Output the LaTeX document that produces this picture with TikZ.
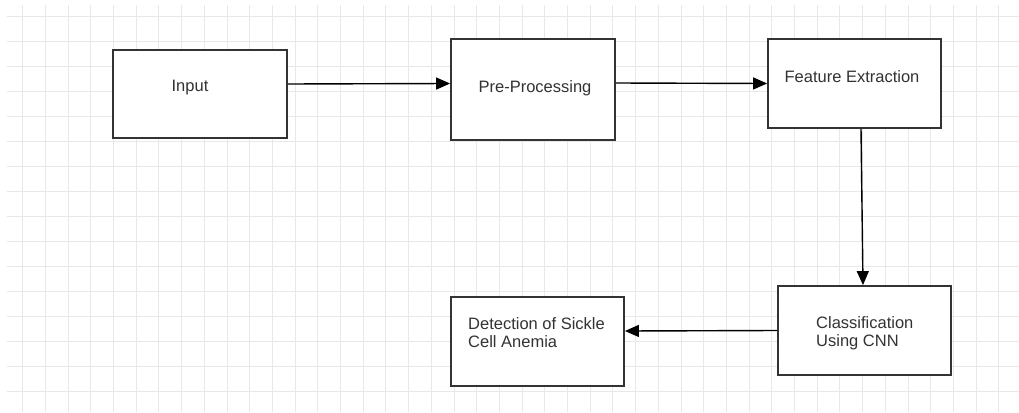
\documentclass[tikz,border=0pt]{standalone}
\usepackage{fontspec}
\setmainfont{Liberation Sans}
\usetikzlibrary{arrows.meta}
\definecolor{gridc}{HTML}{E8E8E8}
\definecolor{boxc}{HTML}{333333}
\definecolor{txtc}{HTML}{333333}
\tikzset{
  box/.style={draw=boxc, line width=1.8pt, fill=white, inner sep=0pt},
  lbl/.style={text=txtc, font=\fontsize{16.5}{18}\selectfont, inner sep=0pt, align=left},
  conn/.style={draw=black, line width=1.4pt, -{Triangle[length=14pt,width=12pt]}},
  gridline/.style={draw=gridc, line width=1pt}
}
\begin{document}
\begin{tikzpicture}[x=1pt,y=-1pt]
\useasboundingbox (0,0) rectangle (1019,412);
\fill[white] (0,0) rectangle (1019,412);
% grid
\foreach \k in {0,...,43} {
  \draw[gridline] ({22.7+22.7*\k},5) -- ({22.7+22.7*\k},412);
}
\foreach \k in {0,...,15} {
  \draw[gridline] (7,{16.7+25*\k}) -- (1019,{16.7+25*\k});
}
% boxes
\node[box, minimum width=174pt, minimum height=88pt] (inp) at (200,94) {};
\node[box, minimum width=164pt, minimum height=101pt] (pre) at (533,89.5) {};
\node[box, minimum width=173pt, minimum height=89pt] (fe) at (854.5,83.5) {};
\node[box, minimum width=173pt, minimum height=89pt] (cl) at (864.5,330.5) {};
\node[box, minimum width=173pt, minimum height=89pt] (det) at (537.5,341.5) {};
% labels
\node[lbl] (tinp) at (190,88) {Input};
\node[lbl] (tpre) at (535,88) {Pre-Processing};
\node[lbl] (tfe) at (852,77) {Feature Extraction};
\node[lbl, anchor=west] (tcl) at (816,333) {Classification\\Using CNN};
\node[lbl, anchor=west] (tdet) at (468,333) {Detection of Sickle\\Cell Anemia};
% connectors
\draw[conn] ([yshift=10pt]inp.east) -- ([yshift=6pt]pre.west);
\draw[conn] ([yshift=6.5pt]pre.east) -- (fe.west);
\draw[conn] ([xshift=6.5pt]fe.south) -- ([xshift=-1.5pt]cl.north);
\draw[conn] (cl.west) -- ([yshift=10.5pt]det.east);
\end{tikzpicture}
\end{document}
